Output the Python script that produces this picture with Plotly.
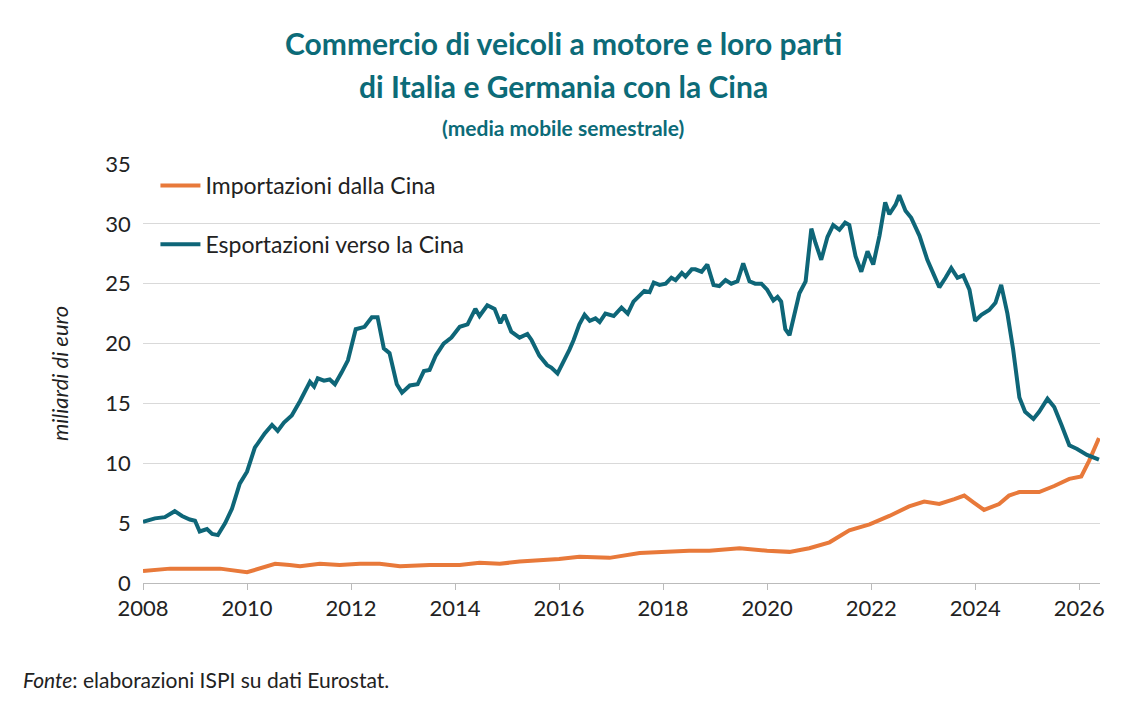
import plotly.graph_objects as go

# export series (decimal year, bn EUR)
exp_x = [2008.00, 2008.23, 2008.42, 2008.61, 2008.75, 2008.90, 2009.00, 2009.09, 2009.23, 2009.33, 2009.44, 2009.58,
         2009.71, 2009.86, 2010.00, 2010.15, 2010.34, 2010.48, 2010.59, 2010.71, 2010.86, 2011.02, 2011.21, 2011.29,
         2011.36, 2011.48, 2011.59, 2011.69, 2011.82, 2011.94, 2012.09, 2012.26, 2012.40, 2012.51, 2012.63, 2012.74,
         2012.88, 2012.98, 2013.13, 2013.28, 2013.40, 2013.51, 2013.63, 2013.78, 2013.93, 2014.09, 2014.24, 2014.39,
         2014.47, 2014.62, 2014.76, 2014.87, 2014.95, 2015.08, 2015.24, 2015.39, 2015.47, 2015.62, 2015.77, 2015.85,
         2015.97, 2016.08, 2016.20, 2016.28, 2016.39, 2016.49, 2016.59, 2016.70, 2016.78, 2016.89, 2017.05, 2017.20,
         2017.32, 2017.43, 2017.55, 2017.64, 2017.74, 2017.82, 2017.93, 2018.05, 2018.16, 2018.24, 2018.36, 2018.43,
         2018.55, 2018.62, 2018.74, 2018.85, 2018.97, 2019.08, 2019.20, 2019.31, 2019.43, 2019.54, 2019.66, 2019.77,
         2019.89, 2020.00, 2020.12, 2020.20, 2020.27, 2020.35, 2020.43, 2020.54, 2020.62, 2020.74, 2020.85, 2020.93,
         2021.04, 2021.16, 2021.27, 2021.39, 2021.50, 2021.58, 2021.70, 2021.81, 2021.93, 2022.04, 2022.16, 2022.27,
         2022.35, 2022.47, 2022.54, 2022.66, 2022.77, 2022.93, 2023.08, 2023.20, 2023.31, 2023.43, 2023.54, 2023.66,
         2023.77, 2023.89, 2024.00, 2024.12, 2024.27, 2024.39, 2024.50, 2024.62, 2024.73, 2024.85, 2024.96, 2025.12,
         2025.23, 2025.39, 2025.52, 2025.66, 2025.81, 2025.96, 2026.15, 2026.38]
exp_y = [5.1, 5.4, 5.5, 6.0, 5.6, 5.3, 5.2, 4.3, 4.5, 4.1, 4.0, 5.0,
         6.2, 8.3, 9.3, 11.3, 12.5, 13.2, 12.7, 13.4, 14.0, 15.2, 16.8, 16.4,
         17.1, 16.9, 17.0, 16.6, 17.6, 18.6, 21.2, 21.4, 22.2, 22.2, 19.6, 19.2,
         16.6, 15.9, 16.5, 16.6, 17.7, 17.8, 19.0, 20.0, 20.5, 21.4, 21.6, 22.9,
         22.3, 23.2, 22.9, 21.7, 22.4, 21.0, 20.5, 20.8, 20.3, 19.0, 18.2, 18.0,
         17.5, 18.4, 19.5, 20.3, 21.6, 22.4, 21.9, 22.1, 21.8, 22.5, 22.3, 23.0,
         22.5, 23.5, 24.0, 24.4, 24.3, 25.1, 24.9, 25.0, 25.5, 25.3, 25.9, 25.6,
         26.2, 26.2, 26.0, 26.6, 24.9, 24.8, 25.3, 25.0, 25.2, 26.7, 25.2, 25.0,
         25.0, 24.5, 23.6, 23.9, 23.5, 21.2, 20.7, 22.7, 24.2, 25.2, 29.6, 28.4,
         27.0, 28.9, 29.9, 29.5, 30.1, 29.9, 27.3, 26.0, 27.7, 26.6, 29.0, 31.8,
         30.8, 31.6, 32.4, 31.1, 30.5, 29.0, 27.0, 25.8, 24.7, 25.5, 26.3, 25.5,
         25.7, 24.5, 21.9, 22.4, 22.8, 23.4, 24.9, 22.5, 19.5, 15.5, 14.3, 13.7,
         14.3, 15.4, 14.7, 13.2, 11.5, 11.2, 10.7, 10.3]

# import series
imp_x = [2008.00, 2008.52, 2009.09, 2009.48, 2010.00, 2010.29, 2010.54, 2010.82, 2011.02, 2011.40, 2011.78, 2012.17,
         2012.55, 2012.94, 2013.51, 2014.09, 2014.47, 2014.86, 2015.24, 2015.62, 2016.00, 2016.39, 2016.97, 2017.55,
         2018.00, 2018.50, 2018.89, 2019.47, 2020.00, 2020.43, 2020.81, 2021.20, 2021.58, 2021.97, 2022.35, 2022.73,
         2023.02, 2023.31, 2023.60, 2023.79, 2023.98, 2024.17, 2024.46, 2024.65, 2024.85, 2025.23, 2025.52, 2025.81,
         2026.04, 2026.19, 2026.38]
imp_y = [1.0, 1.2, 1.2, 1.2, 0.9, 1.3, 1.6, 1.5, 1.4, 1.6, 1.5, 1.6,
         1.6, 1.4, 1.5, 1.5, 1.7, 1.6, 1.8, 1.9, 2.0, 2.2, 2.1, 2.5,
         2.6, 2.7, 2.7, 2.9, 2.7, 2.6, 2.9, 3.4, 4.4, 4.9, 5.6, 6.4,
         6.8, 6.6, 7.0, 7.3, 6.7, 6.1, 6.6, 7.3, 7.6, 7.6, 8.1, 8.7,
         8.9, 10.2, 12.1]

title_lines = ["Commercio di veicoli a motore e loro parti", "di Italia e Germania con la Cina",
               "(media mobile semestrale)"]

teal = "#0e6678"
orange = "#e8793a"
title_col = "#0c6b78"
font = "Lato"

fig = go.Figure()
fig.add_trace(go.Scatter(x=imp_x, y=imp_y, mode="lines", name="Importazioni dalla Cina",
                         legendgroup="imp", line=dict(color=orange, width=4)))
fig.add_trace(go.Scatter(x=exp_x, y=exp_y, mode="lines", name="Esportazioni verso la Cina",
                         legendgroup="exp", line=dict(color=teal, width=4)))

fig.update_layout(
    width=1126, height=708, plot_bgcolor="white", paper_bgcolor="white",
    margin=dict(l=135, r=34, t=156, b=133),
    font=dict(family=font, size=22, color="#222"),
    legend=dict(x=0.013, y=1.0, xanchor="left", yanchor="top", bgcolor="rgba(0,0,0,0)",
                font=dict(size=23), itemwidth=40, tracegroupgap=26),
    showlegend=True,
)

# title as centred annotations (centred on the page, not the plot area)
for txt, yy, sz in zip(title_lines, [1.288, 1.186, 1.086], [30, 30, 21]):
    fig.add_annotation(text=f"<b>{txt}</b>", xref="paper", yref="paper", x=0.439, y=yy,
                       xanchor="center", yanchor="middle", showarrow=False,
                       font=dict(size=sz, color=title_col))

fig.update_xaxes(range=[2008, 2026.4], tickvals=list(range(2008, 2027, 2)), showgrid=False,
                 showline=True, linecolor="#bbb", ticks="outside", ticklen=6, tickcolor="#bbb",
                 tickfont=dict(size=22), automargin=False)
fig.update_yaxes(range=[0, 35], dtick=5, showgrid=True, gridcolor="#d9d9d9", zeroline=False,
                 tickfont=dict(size=22), ticksuffix="  ", automargin=False,
                 title=dict(text="<i>miliardi di euro</i>", font=dict(size=22), standoff=30))
fig.add_annotation(text="<i>Fonte</i>: elaborazioni ISPI su dati Eurostat.", xref="paper", yref="paper",
                   x=-0.128, y=-0.195, xanchor="left", yanchor="top", showarrow=False,
                   font=dict(size=21, color="#222"))
fig.write_html("out.html")
